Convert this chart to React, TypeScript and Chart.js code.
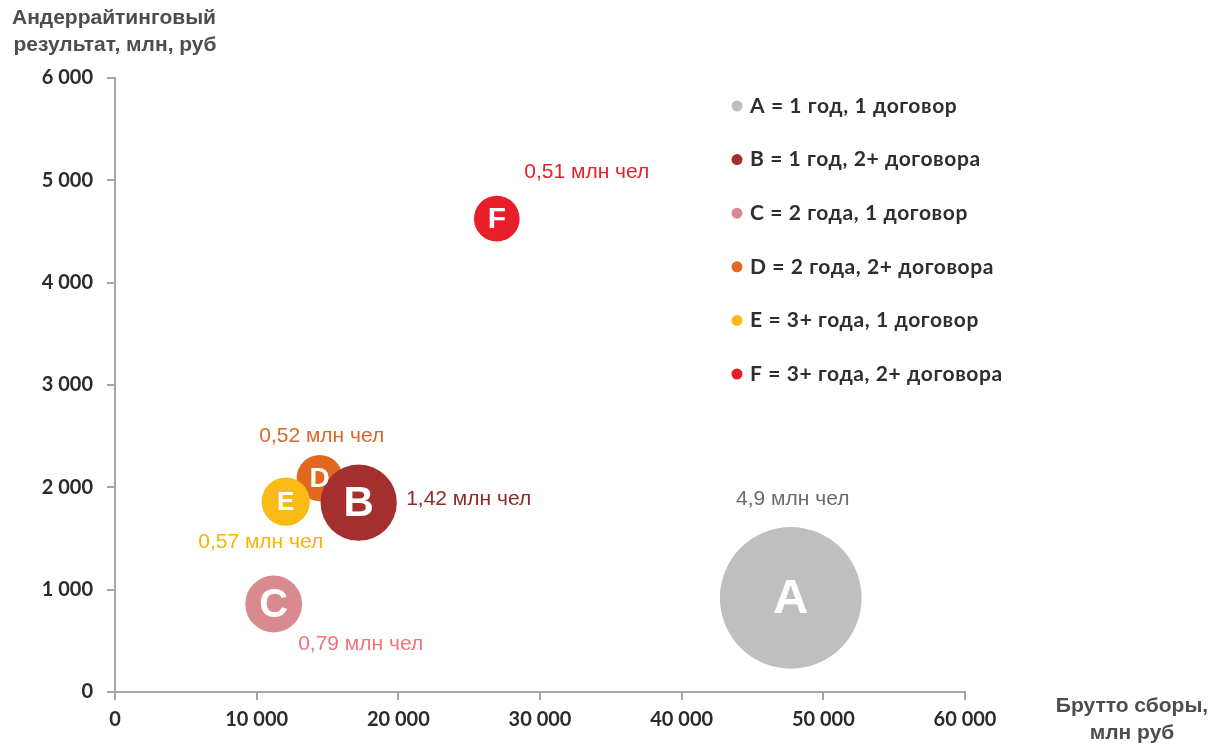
import React, { useEffect, useRef } from "react";
import { Chart, registerables } from "chart.js";

Chart.register(...registerables);

// ---------- data ----------
const categories = ["A", "B", "C", "D", "E", "F"];
const legendLabels = [
  "A = 1 год, 1 договор",
  "B = 1 год, 2+ договора",
  "C = 2 года, 1 договор",
  "D = 2 года, 2+ договора",
  "E = 3+ года, 1 договор",
  "F = 3+ года, 2+ договора",
];
const grossPremiums = [47700, 17200, 11200, 14450, 12050, 26950]; // x, млн руб
const underwritingResult = [920, 1850, 860, 2090, 1860, 4625]; // y, млн руб
const clientsMln = [4.9, 1.42, 0.79, 0.52, 0.57, 0.51]; // bubble size
const clientLabels = [
  "4,9 млн чел",
  "1,42 млн чел",
  "0,79 млн чел",
  "0,52 млн чел",
  "0,57 млн чел",
  "0,51 млн чел",
];
const xTicks = [0, 10000, 20000, 30000, 40000, 50000, 60000];
const yTicks = [0, 1000, 2000, 3000, 4000, 5000, 6000];
const yTitle = ["Андеррайтинговый", "результат, млн, руб"];
const xTitle = ["Брутто сборы,", "млн руб"];

// ---------- styles ----------
const bubbleColors = ["#bfbfbf", "#a3302f", "#d88a8e", "#e0691f", "#fabb16", "#e81f28"];
const labelColors = ["#6b6b6b", "#8e2a25", "#f0737b", "#d9692a", "#f7b500", "#e8202a"];
const drawOrder = [6, 2, 5, 4, 3, 1]; // higher = drawn first (underneath)
const letterSizes = [49, 42, 40, 28, 26, 30];
const labelOffsets = [
  [2, -99],
  [110, -3],
  [87, 40],
  [2, -42],
  [-25, 41],
  [90, -47],
];
const RADIUS_PER_SQRT = 32;
const bubbleRadius = (mln: number) => RADIUS_PER_SQRT * Math.sqrt(mln);

const fmt = (v: number) => String(v).replace(/\B(?=(\d{3})+(?!\d))/g, " ");

const TICK_FONT = "Lato";

const overlayPlugin = {
  id: "overlay",
  afterDatasetsDraw(chart: any) {
    const ctx = chart.ctx as CanvasRenderingContext2D;
    ctx.save();
    categories.forEach((cat, i) => {
      const meta = chart.getDatasetMeta(i);
      const el = meta.data[0];
      if (!el) return;
      const x = el.x;
      const y = el.y;
      ctx.fillStyle = "#ffffff";
      ctx.font = `bold ${letterSizes[i]}px "Liberation Sans", Arial, sans-serif`;
      ctx.textAlign = "center";
      ctx.textBaseline = "middle";
      ctx.fillText(cat, x, y + letterSizes[i] * 0.04);
      ctx.fillStyle = labelColors[i];
      ctx.font = `21px "Liberation Sans", Arial, sans-serif`;
      ctx.fillText(clientLabels[i], x + labelOffsets[i][0], y + labelOffsets[i][1]);
    });
    ctx.restore();
  },
  afterDraw(chart: any) {
    const ctx = chart.ctx as CanvasRenderingContext2D;
    ctx.save();
    ctx.fillStyle = "#4d4d4d";
    ctx.font = `bold 21px "Liberation Sans", Arial, sans-serif`;
    ctx.textAlign = "center";
    ctx.textBaseline = "middle";
    ctx.fillText(yTitle[0], 114, 18);
    ctx.fillText(yTitle[1], 115, 45);
    ctx.fillText(xTitle[0], 1132, 706);
    ctx.fillText(xTitle[1], 1132, 733);
    ctx.textAlign = "left";
    ctx.font = `bold 21px ${TICK_FONT}, sans-serif`;
    (ctx as any).letterSpacing = "0.6px";
    legendLabels.forEach((lab, i) => {
      const ly = 106 + i * 53.6;
      ctx.fillStyle = bubbleColors[i];
      ctx.beginPath();
      ctx.arc(737, ly, 5.5, 0, Math.PI * 2);
      ctx.fill();
      ctx.fillStyle = "#2e2e2e";
      ctx.fillText(lab, 750, ly);
    });
    ctx.restore();
  },
};

export default function App() {
  const ref = useRef<HTMLCanvasElement | null>(null);
  useEffect(() => {
    if (!ref.current) return;
    const chart = new Chart(ref.current, {
      type: "bubble",
      data: {
        datasets: categories.map((cat, i) => ({
          label: legendLabels[i],
          data: [{ x: grossPremiums[i], y: underwritingResult[i], r: bubbleRadius(clientsMln[i]) }],
          backgroundColor: bubbleColors[i],
          borderWidth: 0,
          order: drawOrder[i],
          clip: false as any,
        })),
      },
      options: {
        animation: false,
        responsive: true,
        maintainAspectRatio: false,
        layout: { autoPadding: false, padding: { left: 0, top: 78, right: 248, bottom: 0 } },
        plugins: { legend: { display: false }, tooltip: { enabled: false } },
        scales: {
          x: {
            type: "linear",
            min: 0,
            max: 60000,
            afterBuildTicks: (s: any) => {
              s.ticks = xTicks.map((v) => ({ value: v }));
            },
            afterFit: (s: any) => {
              s.height = 53;
            },
            grid: { drawOnChartArea: false, drawTicks: true, tickLength: 8, color: "#a6a6a6", lineWidth: 2 },
            border: { color: "#a6a6a6", width: 2 },
            ticks: {
              padding: 8,
              color: "#2b2b2b",
              font: { family: TICK_FONT, size: 20, weight: "bold" },
              callback: (v: any) => fmt(Number(v)),
              maxRotation: 0,
            },
          },
          y: {
            type: "linear",
            min: 0,
            max: 6000,
            afterBuildTicks: (s: any) => {
              s.ticks = yTicks.map((v) => ({ value: v }));
            },
            afterFit: (s: any) => {
              s.width = 115;
            },
            grid: { drawOnChartArea: false, drawTicks: true, tickLength: 8, color: "#a6a6a6", lineWidth: 2 },
            border: { color: "#a6a6a6", width: 2 },
            ticks: {
              padding: 14,
              color: "#2b2b2b",
              font: { family: TICK_FONT, size: 20, weight: "bold" },
              callback: (v: any) => fmt(Number(v)),
            },
          },
        },
      },
      plugins: [overlayPlugin],
    } as any);
    return () => chart.destroy();
  }, []);
  return (
    <div style={{ position: "absolute", left: 0, top: 0, width: 1213, height: 745, background: "#fff" }}>
      <canvas ref={ref} />
    </div>
  );
}
